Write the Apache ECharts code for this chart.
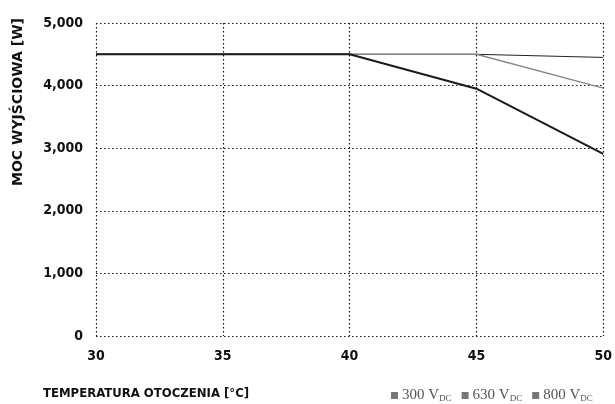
<!DOCTYPE html>
<html>
<head>
<meta charset="utf-8">
<script src="https://cdn.jsdelivr.net/npm/echarts@6/dist/echarts.min.js"></script>
<style>
  html, body { margin: 0; padding: 0; background: #fff; }
  #chart { width: 615px; height: 404px; }
</style>
</head>
<body>
<div id="chart"></div>
<script>
// Ambient temperature [°C] on the x axis
const temperatures = [30, 35, 40, 45, 50];
// Output power [W] for each DC input voltage
const power300 = [4500, 4500, 4500, 4500, 4450];
const power630 = [4500, 4500, 4500, 4500, 3960];
const power800 = [4500, 4500, 4500, 3950, 2910];
const seriesNames = ['300', '630', '800'];
const yTicks = [0, 1000, 2000, 3000, 4000, 5000];

const condensed = '"DejaVu Sans Condensed", "DejaVu Sans", sans-serif';
const serif = '"Liberation Serif", serif';

const chart = echarts.init(document.getElementById('chart'));

const dotted = { color: '#111', width: 1.2, type: [1.5, 2.5] };

function pairs(vals) {
  return temperatures.map((t, i) => [t, vals[i]]);
}

chart.setOption({
  animation: false,
  backgroundColor: '#fff',
  grid: { left: 96, right: 4, top: 23, bottom: 68 },
  xAxis: {
    type: 'value',
    min: 30, max: 50, interval: 5,
    axisLine: { show: false },
    axisTick: { show: false },
    splitLine: { show: true, lineStyle: dotted },
    axisLabel: {
      margin: 13,
      color: '#111', fontFamily: condensed, fontWeight: 'bold', fontSize: 14
    }
  },
  yAxis: {
    type: 'value',
    min: 0, max: 5000, interval: 1000,
    axisLine: { show: false },
    axisTick: { show: false },
    splitLine: { show: true, lineStyle: dotted },
    axisLabel: {
      margin: 13,
      color: '#111', fontFamily: condensed, fontWeight: 'bold', fontSize: 14,
      formatter: v => yTicks.includes(v) ? v.toLocaleString('en-US') : ''
    }
  },
  legend: {
    left: 386, top: 383,
    icon: 'rect', itemWidth: 7, itemHeight: 7, itemGap: 10,
    data: seriesNames,
    formatter: n => '{v|' + n + ' V}{s|DC}',
    textStyle: {
      padding: [0, 0, 0, -1],
      rich: {
        v: { fontFamily: serif, fontSize: 15, color: '#555' },
        s: { fontFamily: serif, fontSize: 9, color: '#555', verticalAlign: 'bottom', padding: [7, 0, 0, 0] }
      }
    }
  },
  graphic: [
    {
      type: 'text', left: 43, top: 387,
      style: { text: 'TEMPERATURA OTOCZENIA [°C]', font: 'bold 13px ' + condensed, fill: '#111' }
    },
    {
      type: 'text', x: 18, y: 102, rotation: Math.PI / 2, originX: 0, originY: 0,
      style: { text: 'MOC WYJŚCIOWA [W]', font: 'bold 14px "DejaVu Sans", sans-serif', fill: '#111', align: 'center', verticalAlign: 'middle' }
    }
  ],
  series: [
    {
      name: '300', type: 'line', data: pairs(power300), symbol: 'none',
      itemStyle: { color: '#777' },
      lineStyle: { color: '#222', width: 1 }
    },
    {
      name: '630', type: 'line', data: pairs(power630), symbol: 'none',
      itemStyle: { color: '#777' },
      lineStyle: { color: '#888', width: 1.5 }
    },
    {
      name: '800', type: 'line', data: pairs(power800), symbol: 'none',
      itemStyle: { color: '#777' },
      lineStyle: { color: '#1a1a1a', width: 2 }
    }
  ]
});
</script>
</body>
</html>
